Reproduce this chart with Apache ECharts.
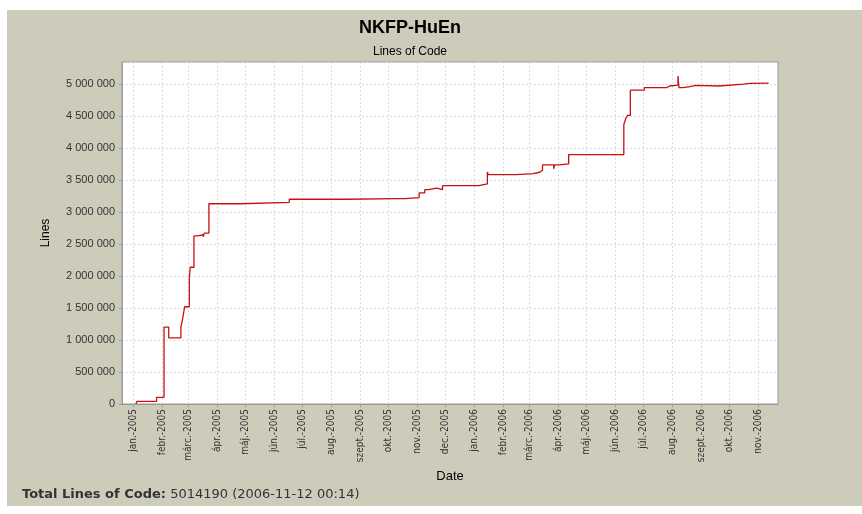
<!DOCTYPE html>
<html>
<head>
    <meta charset="utf-8">
    <title>NKFP-HuEn - Lines of Code</title>
    <script src="https://cdn.jsdelivr.net/npm/echarts@6/dist/echarts.min.js"></script>
    <style>
        body { margin: 0; background: #fff; }
        #bg { position: absolute; left: 7px; top: 10px; width: 855px; height: 496px; background: #cdccbb; }
        #locView { position: absolute; left: 0; top: 0; width: 862px; height: 514px; }
    </style>
</head>
<body>
    <div id="bg"></div>
    <div id="locView"></div>
</body>

<script>
    // commit dates and line counts (value holds until the next date)
    var dates = ['2005-01-04','2005-01-05','2005-01-26','2005-02-03','2005-02-08','2005-02-21','2005-02-23','2005-02-25',
        '2005-03-02','2005-03-03','2005-03-07','2005-03-11','2005-03-17','2005-03-18','2005-03-23','2005-04-26',
        '2005-06-17','2005-08-18','2005-10-10','2005-10-11','2005-10-19','2005-10-20','2005-11-03','2005-11-09',
        '2005-11-13','2005-11-22','2005-11-28','2006-01-06','2006-01-15','2006-01-16','2006-02-15','2006-03-05',
        '2006-03-12','2006-03-15','2006-03-27','2006-03-28','2006-04-02','2006-04-12','2006-05-20','2006-05-21',
        '2006-06-10','2006-06-12','2006-06-14','2006-06-17','2006-07-02','2006-07-26','2006-07-29','2006-08-07',
        '2006-08-08','2006-08-12','2006-08-20','2006-08-26','2006-09-20','2006-10-16','2006-10-23','2006-11-12']
    var lines = [0,42000,104000,1200000,1033000,1200000,1340000,1520000,
        1965000,2137000,2627000,2645000,2612000,2670000,3130000,3150000,
        3200000,3210000,3195000,3210000,3200000,3225000,3300000,3350000,
        3375000,3350000,3412000,3440000,3627000,3585000,3600000,3622000,
        3653000,3737000,3675000,3737000,3752000,3898000,3915000,3898000,
        4369000,4458000,4510000,4906000,4943000,4970000,4985000,5125000,
        4943000,4960000,4980000,4970000,5000000,5010000,5014000,5014190]

    var monthTicks = ['2005-01','2005-02','2005-03','2005-04','2005-05','2005-06','2005-07','2005-08','2005-09','2005-10','2005-11','2005-12',
        '2006-01','2006-02','2006-03','2006-04','2006-05','2006-06','2006-07','2006-08','2006-09','2006-10','2006-11']
    var monthLabels = ['jan.-2005','febr.-2005','márc.-2005','ápr.-2005','máj.-2005','jún.-2005','júl.-2005','aug.-2005','szept.-2005','okt.-2005','nov.-2005','dec.-2005',
        'jan.-2006','febr.-2006','márc.-2006','ápr.-2006','máj.-2006','jún.-2006','júl.-2006','aug.-2006','szept.-2006','okt.-2006','nov.-2006']

    var totalLines = 5014190
    var lastCommit = '2006-11-12 00:14'

    function toTime(s) {
        var p = s.split('-')
        return Date.UTC(+p[0], +p[1] - 1, p[2] ? +p[2] : 1)
    }
    var tickTimes = monthTicks.map(toTime)

    // step line: keep the previous value until the next commit date
    var seriesData = []
    dates.forEach(function (d, i) {
        var t = toTime(d)
        if (i > 0) seriesData.push([t, lines[i - 1]])
        seriesData.push([t, lines[i]])
    })

    function spaced(v) {
        return String(v).replace(/\B(?=(\d{3})+(?!\d))/g, ' ')
    }

    var axisFont = 'Liberation Sans'
    var locOption = {
        animation: false,
        backgroundColor: 'transparent',
        title: [{
            text: 'NKFP-HuEn',
            left: 405, top: 14, textAlign: 'center',
            textStyle: { fontFamily: axisFont, fontSize: 18, fontWeight: 'bold', color: '#000' }
        }, {
            text: 'Lines of Code',
            left: 405, top: 41, textAlign: 'center',
            textStyle: { fontFamily: axisFont, fontSize: 12, fontWeight: 'normal', color: '#000' }
        }],
        grid: {
            left: 122, top: 62, width: 656, height: 342,
            show: true, backgroundColor: '#fff', borderColor: '#999', borderWidth: 1
        },
        xAxis: {
            type: 'value',
            min: toTime('2004-12-20'),
            max: toTime('2006-11-22'),
            name: 'Date', nameLocation: 'middle', nameGap: 63,
            nameTextStyle: { fontFamily: axisFont, fontSize: 13, color: '#000' },
            axisLine: { lineStyle: { color: '#999' } },
            axisTick: { show: true, length: 3, customValues: tickTimes, lineStyle: { color: '#999' } },
            splitLine: { show: true, lineStyle: { color: '#dcdcdc', type: [2, 2] } },
            axisLabel: {
                customValues: tickTimes,
                rotate: 90, margin: 5,
                fontFamily: 'DejaVu Sans Condensed', fontSize: 10, color: '#333',
                formatter: function (v) {
                    var i = tickTimes.indexOf(v)
                    return i < 0 ? '' : monthLabels[i]
                }
            }
        },
        yAxis: {
            type: 'value',
            min: 0, max: 5345000, interval: 500000,
            name: 'Lines', nameLocation: 'middle', nameGap: 70, nameRotate: 90,
            nameTextStyle: { fontFamily: axisFont, fontSize: 12, color: '#000' },
            axisLine: { show: true, lineStyle: { color: '#999' } },
            axisTick: { show: true, length: 3, lineStyle: { color: '#999' } },
            splitLine: { show: true, lineStyle: { color: '#dcdcdc', type: [2, 2] } },
            axisLabel: {
                margin: 7, fontFamily: axisFont, fontSize: 11, color: '#333',
                showMaxLabel: false,
                formatter: function (v) { return v % 500000 === 0 ? spaced(v) : '' }
            }
        },
        series: [{
            type: 'line',
            showSymbol: false,
            data: seriesData,
            lineStyle: { color: '#c81010', width: 1.3 }
        }],
        graphic: [{
            type: 'text',
            left: 22, top: 488,
            style: {
                text: '{b|Total Lines of Code:} ' + totalLines + ' (' + lastCommit + ')',
                fontFamily: 'DejaVu Sans', fontSize: 13, fill: '#333',
                rich: {
                    b: { fontFamily: 'DejaVu Sans', fontSize: 13, fontWeight: 'bold', color: '#2a1a1a' }
                }
            }
        }]
    };
    var locChart = echarts.init(document.getElementById('locView'));
    locChart.setOption(locOption);
</script>
</html>
